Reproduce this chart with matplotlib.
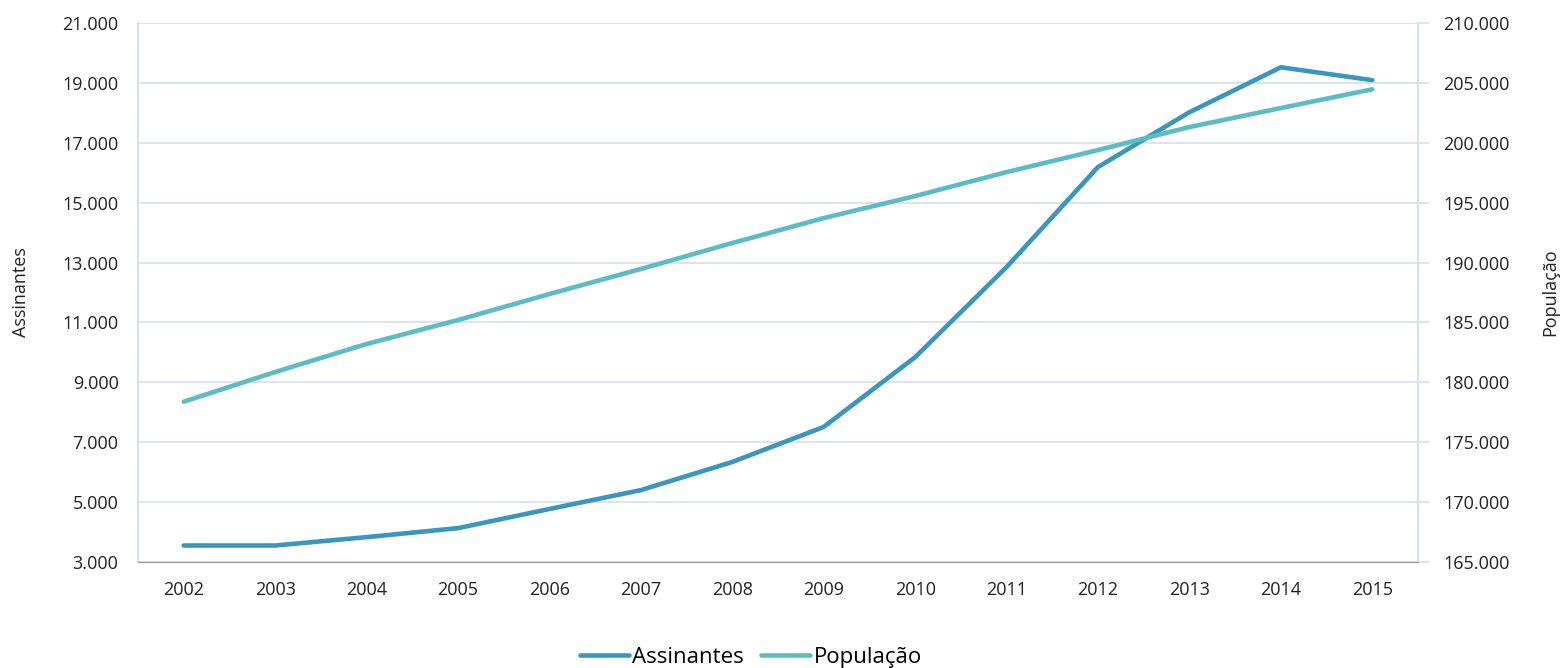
import matplotlib.pyplot as plt
from matplotlib.ticker import FuncFormatter, FixedLocator

plt.rcParams['font.family'] = ['Open Sans', 'DejaVu Sans']

anos = ['2002', '2003', '2004', '2005', '2006', '2007', '2008',
        '2009', '2010', '2011', '2012', '2013', '2014', '2015']
assinantes = [3550, 3550, 3830, 4130, 4770, 5400, 6340,
              7510, 9840, 12850, 16190, 18020, 19520, 19090]
populacao = [178380, 180860, 183200, 185200, 187370, 189460, 191630,
             193710, 195550, 197550, 199390, 201310, 202900, 204460]

cor_ass = '#3896bf'
cor_pop = '#5bbcc5'
grade = '#d5dfea'

def milhar(v, pos):
    return f'{int(round(v)):,}'.replace(',', '.')

fig = plt.figure(figsize=(15.61, 6.68), dpi=100)
ax = fig.add_axes([0.0884, 0.1587, 0.82, 0.8069])
ax2 = ax.twinx()

x = list(range(len(anos)))
l1, = ax.plot(x, assinantes, color=cor_ass, lw=3.3, solid_capstyle='round', label='Assinantes')
l2, = ax2.plot(x, populacao, color=cor_pop, lw=3.3, solid_capstyle='round', label='População')

ax.set_xlim(-0.5, len(anos) - 0.5)
ax.set_ylim(3000, 21000)
ax.yaxis.set_major_locator(FixedLocator(list(range(3000, 21001, 2000))))
ax2.set_ylim(165000, 210000)
ax2.yaxis.set_major_locator(FixedLocator(list(range(165000, 210001, 5000))))
ax.yaxis.set_major_formatter(FuncFormatter(milhar))
ax2.yaxis.set_major_formatter(FuncFormatter(milhar))
ax.set_xticks(x)
ax.set_xticklabels(anos)

ax.grid(axis='y', color=grade, lw=1.2)
ax.set_axisbelow(True)
for a in (ax, ax2):
    a.spines['top'].set_visible(False)
    a.spines['left'].set_color(grade)
    a.spines['right'].set_color(grade)
    a.spines['bottom'].set_color('#9a9a9a')
    a.spines['left'].set_linewidth(1.2)
    a.spines['right'].set_linewidth(1.2)

ax.tick_params(axis='y', length=0, pad=14, labelsize=13, colors='#222222')
ax.tick_params(axis='x', length=0, pad=14, labelsize=13, colors='#222222')
ax2.tick_params(axis='y', length=8, width=1.2, color=grade, pad=10, labelsize=13, labelcolor='#222222')

ax.set_ylabel('Assinantes', fontsize=13, color='#222222')
ax.yaxis.set_label_coords(-0.084, 0.5)
ax2.set_ylabel('População', fontsize=13, color='#222222')
ax2.yaxis.set_label_coords(1.096, 0.5)

fig.legend(handles=[l1, l2], loc='center', bbox_to_anchor=(0.481, 0.016), ncol=2,
           frameon=False, fontsize=16, handlelength=2.2, handletextpad=0.15,
           columnspacing=0.8)

fig.savefig('out.png', dpi=100)
